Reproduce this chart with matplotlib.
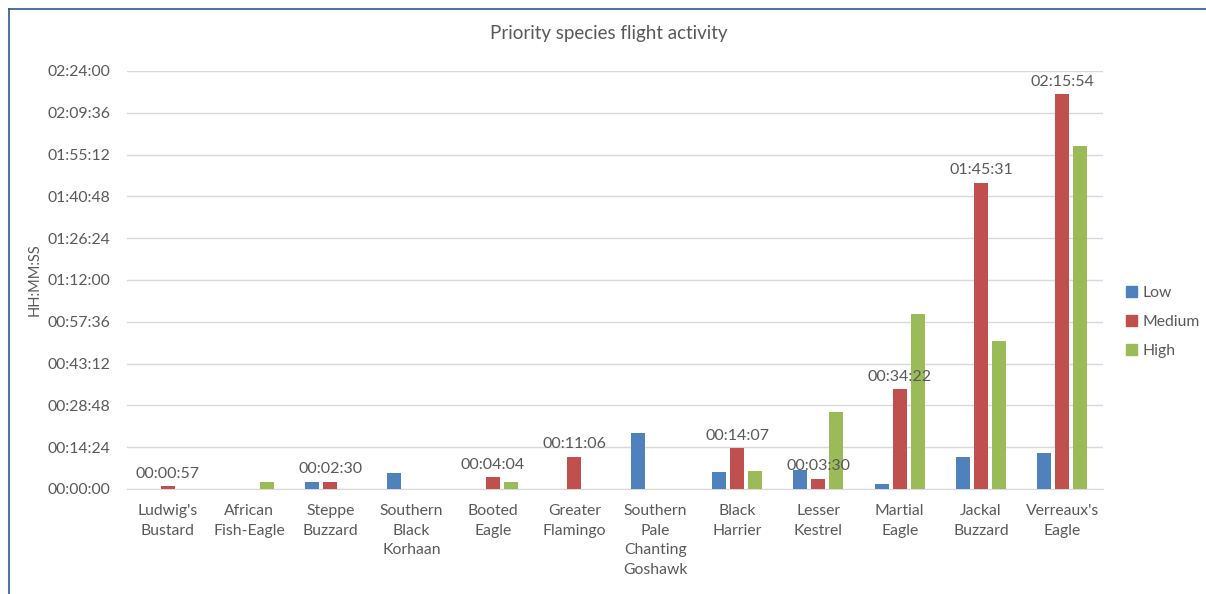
import numpy as np
import matplotlib.pyplot as plt
from matplotlib.ticker import FuncFormatter, MultipleLocator
from matplotlib.lines import Line2D

plt.rcParams['font.family'] = ['Lato', 'DejaVu Sans']

# species on the x axis
species = ["Ludwig's\nBustard", "African\nFish-Eagle", "Steppe\nBuzzard",
           "Southern\nBlack\nKorhaan", "Booted\nEagle", "Greater\nFlamingo",
           "Southern\nPale\nChanting\nGoshawk", "Black\nHarrier", "Lesser\nKestrel",
           "Martial\nEagle", "Jackal\nBuzzard", "Verreaux's\nEagle"]

# flight time in seconds per height band
low = [0, 0, 140, 330, 0, 0, 1157, 358, 393, 97, 668, 750]
medium = [57, 0, 150, 0, 244, 666, 0, 847, 210, 2062, 6331, 8154]
high = [0, 140, 0, 0, 140, 0, 0, 370, 1598, 3611, 3059, 7096]

series_names = ['Low', 'Medium', 'High']
colors = ['#4F81BD', '#C0504D', '#9BBB59']
txt = '#595959'


def hms(s, pos=None):
    s = int(round(s))
    return '%02d:%02d:%02d' % (s // 3600, (s % 3600) // 60, s % 60)


fig = plt.figure(figsize=(12.06, 5.94), dpi=100)
ax = fig.add_axes([0.1053, 0.1768, 0.8093, 0.7037])

x = np.arange(len(species))
w = 0.172
step = 0.22
for i, (vals, name, c) in enumerate(zip([low, medium, high], series_names, colors)):
    ax.bar(x + (i - 1) * step, vals, width=w, color=c, label=name, zorder=3)

# data labels on the Medium series
for xi, v in zip(x, medium):
    if v > 0:
        ax.text(xi, v + 110, hms(v), ha='center', va='bottom', fontsize=11.5, color=txt)

ax.set_xlim(-0.5, len(species) - 0.5)
ax.set_ylim(0, 8640)
ax.yaxis.set_major_locator(MultipleLocator(864))
ax.yaxis.set_major_formatter(FuncFormatter(hms))
ax.grid(axis='y', color='#D9D9D9', linewidth=1, zorder=0)
for sp in ['top', 'right', 'left']:
    ax.spines[sp].set_visible(False)
ax.spines['bottom'].set_color('#D9D9D9')
ax.tick_params(axis='both', length=0, colors=txt, labelsize=11.3)
ax.tick_params(axis='y', pad=12)
ax.tick_params(axis='x', pad=11)
ax.set_xticks(x)
ax.set_xticklabels(species, linespacing=1.5)

ax.set_ylabel('HH:MM:SS', color=txt, fontsize=10.5)
ax.yaxis.set_label_coords(-0.0875, 0.5)

fig.text(0.505, 0.943, 'Priority species flight activity', ha='center', va='center',
         fontsize=13.5, color=txt)

handles = [plt.Rectangle((0, 0), 1, 1, color=c) for c in colors]
fig.legend(handles, series_names, loc='center left', bbox_to_anchor=(0.922, 0.458),
           frameon=False, fontsize=11.3, handlelength=0.7, handleheight=0.7,
           handletextpad=0.35, labelspacing=0.95, labelcolor=txt)

# chart frame edge (left and top)
fig.add_artist(Line2D([0.0075, 0.0075], [0.0, 0.985], color='#2F5597', linewidth=1.2))
fig.add_artist(Line2D([0.0075, 1.0], [0.985, 0.985], color='#2F5597', linewidth=1.2))

fig.savefig('out.png', dpi=100, facecolor='white')
